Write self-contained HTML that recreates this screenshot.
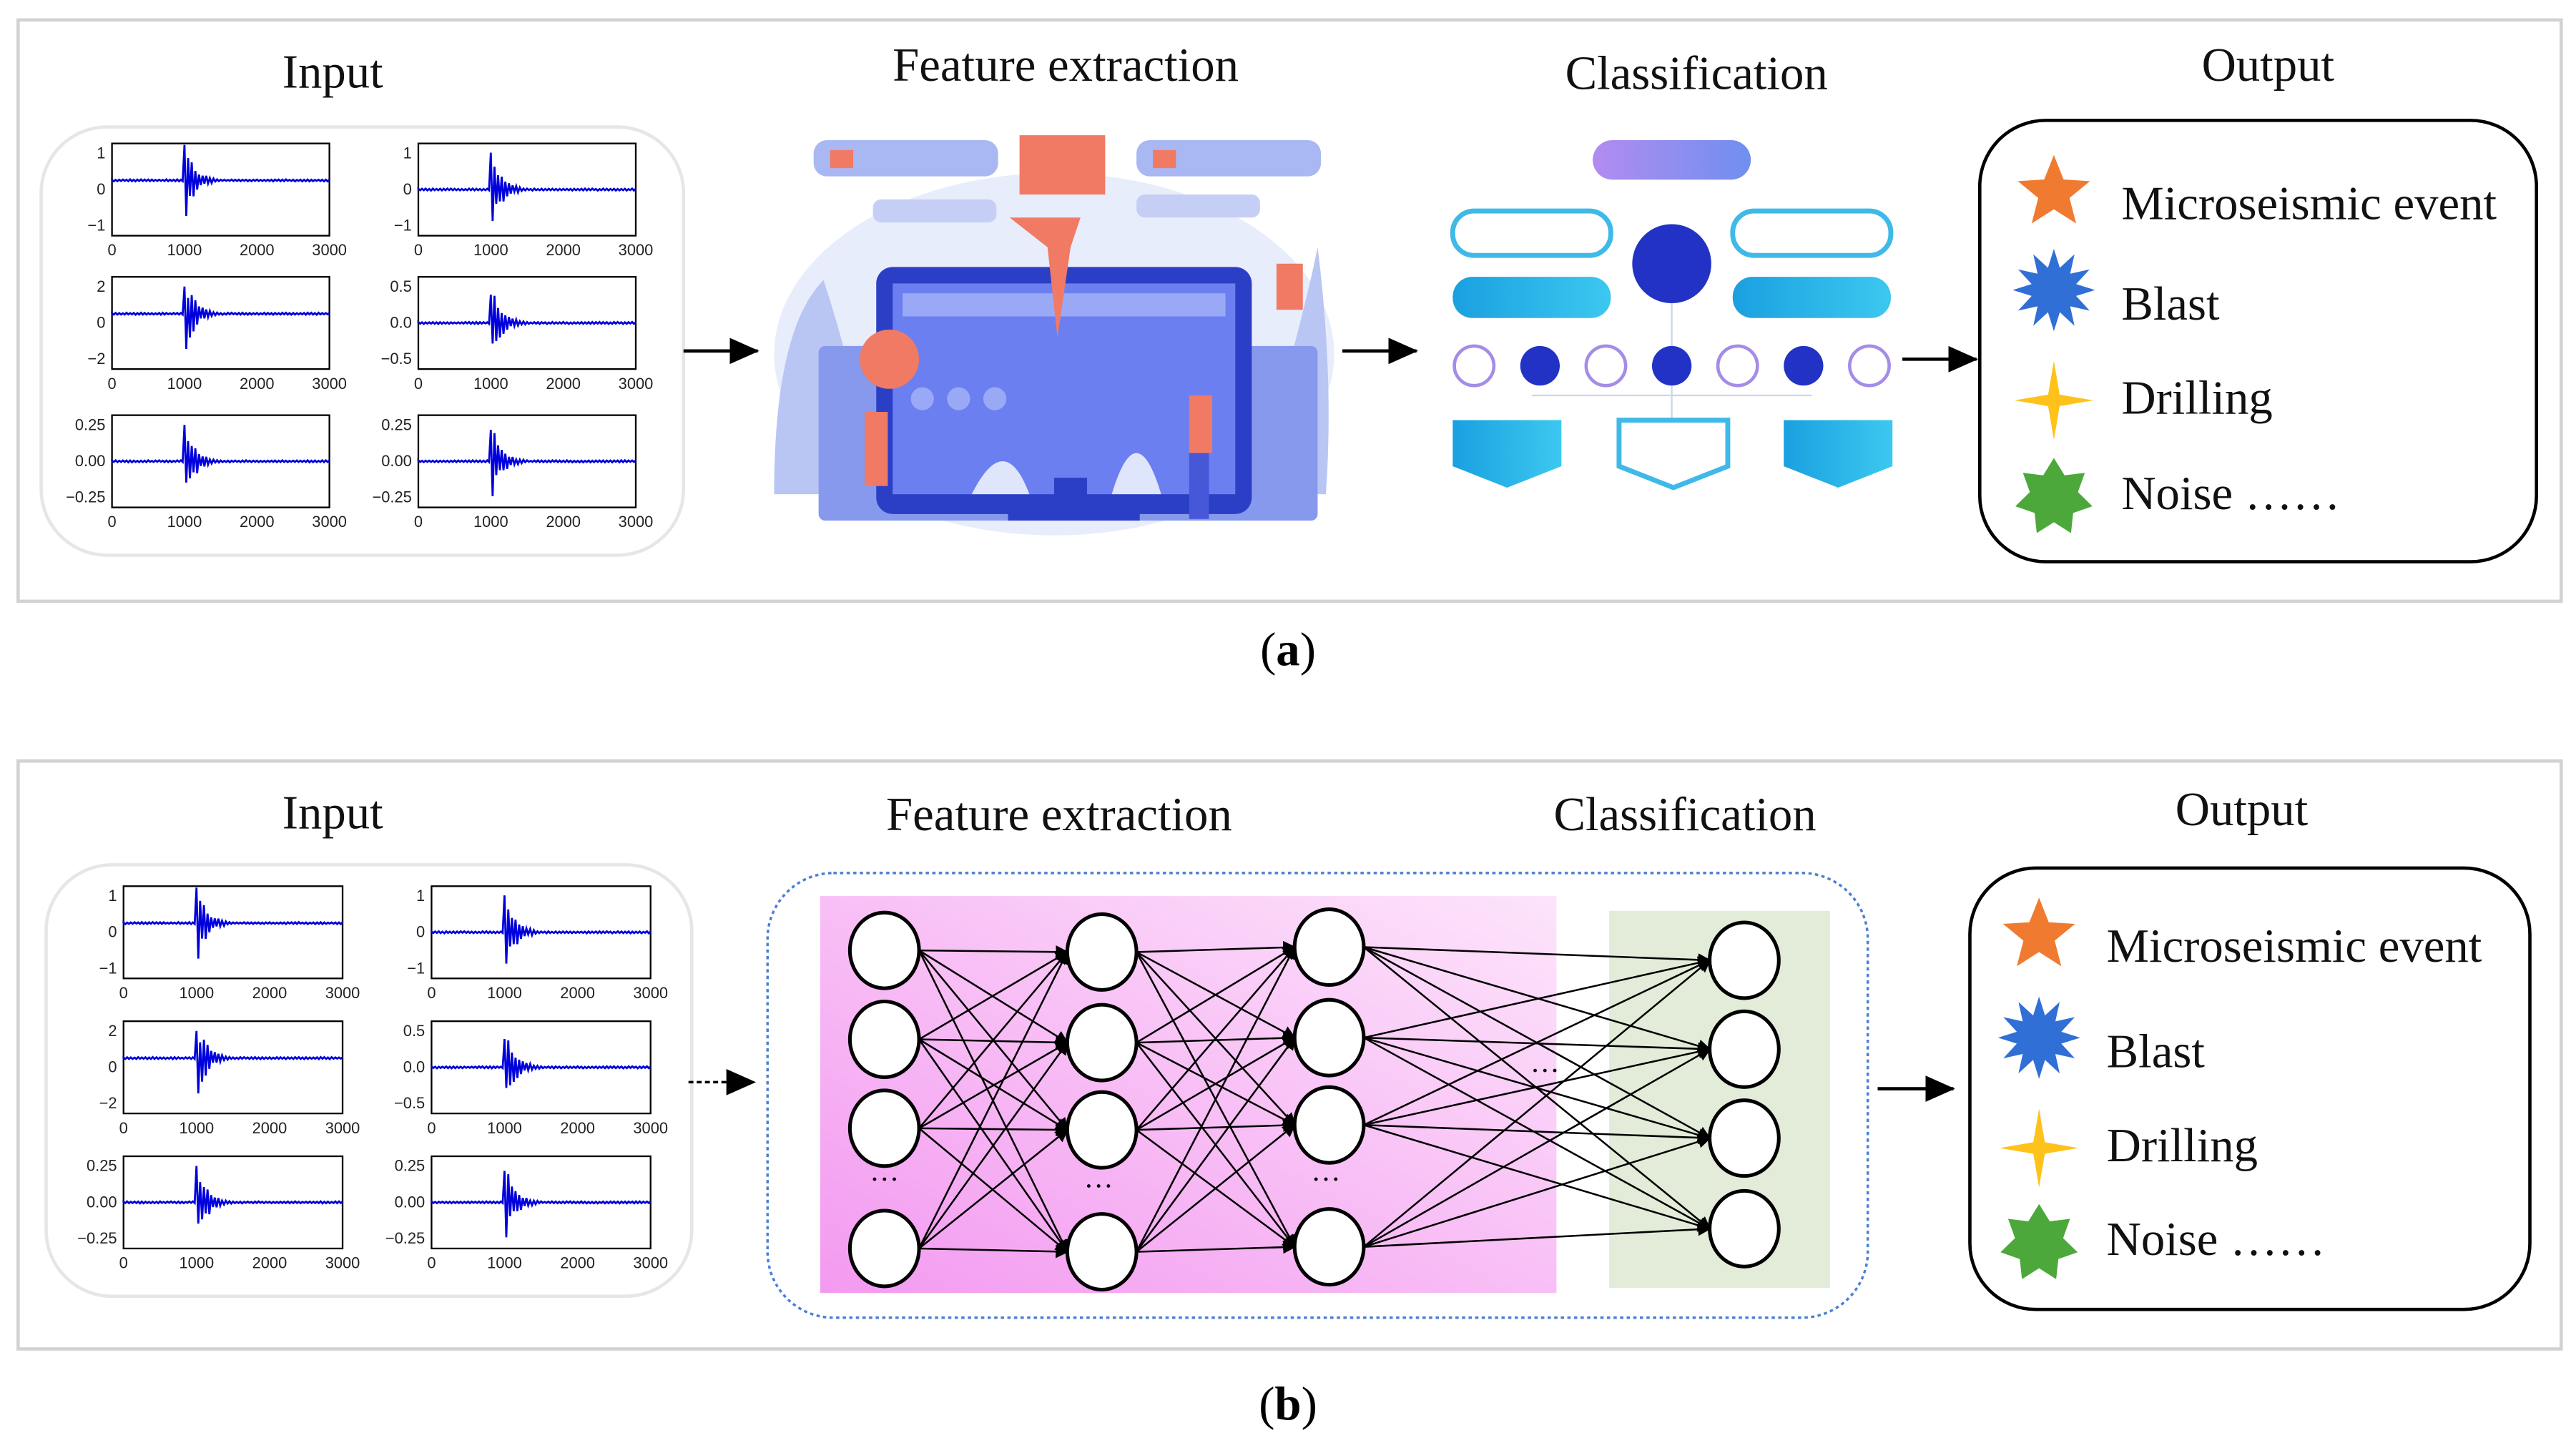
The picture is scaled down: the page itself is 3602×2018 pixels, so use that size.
<!DOCTYPE html>
<html><head><meta charset="utf-8"><style>
html,body{margin:0;padding:0;background:#fff;}
svg{display:block;}
text{font-family:"Liberation Serif",serif;}
.t{font-size:29px;fill:#111;}
.ax{font-family:"Liberation Sans",sans-serif;font-size:9.5px;fill:#222;}
</style></head><body>
<svg id="s" xmlns="http://www.w3.org/2000/svg" width="3602" height="2018" viewBox="0 0 1564 876">
<defs>
<marker id="ah" markerWidth="8" markerHeight="8" refX="7" refY="4" orient="auto" markerUnits="userSpaceOnUse"><path d="M0,0 L8,4 L0,8z" fill="#000"/></marker>
<marker id="ah2" markerWidth="18" markerHeight="16" refX="17" refY="8" orient="auto" markerUnits="userSpaceOnUse"><path d="M0,0 L18,8 L0,16z" fill="#000"/></marker>
<linearGradient id="pk" x1="0" y1="1" x2="1" y2="0"><stop offset="0" stop-color="#f39af0"/><stop offset="1" stop-color="#fde4fb"/></linearGradient>
<linearGradient id="bl" x1="0" y1="0" x2="1" y2="0"><stop offset="0" stop-color="#1aa0e0"/><stop offset="1" stop-color="#3cc8f0"/></linearGradient>
<linearGradient id="pu" x1="0" y1="0" x2="1" y2="0"><stop offset="0" stop-color="#b28cf0"/><stop offset="1" stop-color="#6f8ff0"/></linearGradient>
</defs>
<rect width="1564" height="876" fill="#fff"/>
<!-- panel a -->
<rect x="11" y="12" width="1544" height="353" fill="#fff" stroke="#d2d2d2" stroke-width="2"/>
<text class="t" x="202" y="53" text-anchor="middle">Input</text>
<text class="t" x="647" y="49" text-anchor="middle">Feature extraction</text>
<text class="t" x="1030" y="54" text-anchor="middle">Classification</text>
<text class="t" x="1377" y="49" text-anchor="middle">Output</text>
<rect x="25" y="77" width="390" height="260" rx="40" fill="#fff" stroke="#e6e6e6" stroke-width="2"/>
<g id="plotsA"></g>
<line x1="415" y1="213" x2="460" y2="213" stroke="#000" stroke-width="2" marker-end="url(#ah2)"/>
<line x1="815" y1="213" x2="860" y2="213" stroke="#000" stroke-width="2" marker-end="url(#ah2)"/>
<line x1="1155" y1="218" x2="1200" y2="218" stroke="#000" stroke-width="2" marker-end="url(#ah2)"/>
<!-- feature illustration -->
<g>
<ellipse cx="640" cy="215" rx="170" ry="110" fill="#e8edfb"/>
<path d="M470 300 Q470 200 500 170 Q520 230 530 300z" fill="#b9c6f3"/>
<path d="M760 300 Q790 200 800 150 Q810 230 805 300z" fill="#b9c6f3"/>
<rect x="494" y="85" width="112" height="22" rx="8" fill="#a9b8f3"/>
<rect x="504" y="91" width="14" height="11" fill="#f07a64"/>
<rect x="690" y="85" width="112" height="22" rx="8" fill="#a9b8f3"/>
<rect x="700" y="91" width="14" height="11" fill="#f07a64"/>
<rect x="530" y="121" width="75" height="14" rx="5" fill="#c5cff6"/>
<rect x="690" y="118" width="75" height="14" rx="5" fill="#c5cff6"/>
<rect x="619" y="82" width="52" height="36" fill="#f07a64"/>
<rect x="497" y="210" width="303" height="106" rx="4" fill="#8799ec"/>
<rect x="532" y="162" width="228" height="150" rx="10" fill="#2b3fc6"/>
<rect x="542" y="172" width="208" height="128" fill="#6b7ff0"/>
<rect x="548" y="178" width="196" height="14" fill="#9aa9f6"/>
<path d="M613 132 L656 132 L650 150 L642 205 L636 150z" fill="#f07a64"/>
<circle cx="540" cy="218" r="18" fill="#f07a64"/>
<circle cx="560" cy="242" r="7" fill="#9aa9f6"/><circle cx="582" cy="242" r="7" fill="#9aa9f6"/><circle cx="604" cy="242" r="7" fill="#9aa9f6"/>
<rect x="612" y="302" width="80" height="14" fill="#2b3fc6"/>
<rect x="640" y="290" width="20" height="14" fill="#2b3fc6"/>
<rect x="525" y="250" width="14" height="45" fill="#f07a64"/>
<rect x="722" y="240" width="14" height="35" fill="#f07a64"/><rect x="722" y="275" width="12" height="40" fill="#4657d8"/>
<rect x="775" y="160" width="16" height="28" fill="#f07a64"/>
<path d="M590 300 Q610 260 625 300z" fill="#dfe6fb"/>
<path d="M675 300 Q690 250 705 300z" fill="#dfe6fb"/>
</g>
<!-- classification icons -->
<g>
<rect x="967" y="85" width="96" height="24" rx="12" fill="url(#pu)"/>
<rect x="882" y="128" width="96" height="27" rx="13" fill="#fff" stroke="#3fb9e8" stroke-width="3"/>
<rect x="1052" y="128" width="96" height="27" rx="13" fill="#fff" stroke="#3fb9e8" stroke-width="3"/>
<rect x="882" y="168" width="96" height="25" rx="12" fill="url(#bl)"/>
<rect x="1052" y="168" width="96" height="25" rx="12" fill="url(#bl)"/>
<circle cx="1015" cy="160" r="24" fill="#2232c4"/>
<g stroke="#c9d6ea" stroke-width="1"><line x1="1015" y1="184" x2="1015" y2="260"/><line x1="930" y1="240" x2="1100" y2="240"/></g>
<g stroke="#a48ce8" stroke-width="2" fill="#fff">
<circle cx="895" cy="222" r="12"/><circle cx="975" cy="222" r="12"/><circle cx="1055" cy="222" r="12"/><circle cx="1135" cy="222" r="12"/></g>
<g fill="#2232c4"><circle cx="935" cy="222" r="12"/><circle cx="1015" cy="222" r="12"/><circle cx="1095" cy="222" r="12"/></g>
<path d="M882 255 H948 V283 L915 296 L882 283z" fill="url(#bl)"/>
<path d="M983 255 H1049 V283 L1016 296 L983 283z" fill="#fff" stroke="#3fb9e8" stroke-width="3"/>
<path d="M1083 255 H1149 V283 L1116 296 L1083 283z" fill="url(#bl)"/>
</g>
<rect x="1202" y="73" width="338" height="268" rx="40" fill="#fff" stroke="#000" stroke-width="2"/>
<g id="outA"></g>
<text x="782" y="404" text-anchor="middle" style="font-size:29px;">(<tspan font-weight="bold">a</tspan>)</text>
<!-- panel b -->
<rect x="11" y="462" width="1544" height="357" fill="#fff" stroke="#d2d2d2" stroke-width="2"/>
<text class="t" x="202" y="503" text-anchor="middle">Input</text>
<text class="t" x="643" y="504" text-anchor="middle">Feature extraction</text>
<text class="t" x="1023" y="504" text-anchor="middle">Classification</text>
<text class="t" x="1361" y="501" text-anchor="middle">Output</text>
<rect x="28" y="525" width="392" height="262" rx="40" fill="#fff" stroke="#e6e6e6" stroke-width="2"/>
<g id="plotsB"></g>
<line x1="418" y1="657" x2="458" y2="657" stroke="#000" stroke-width="1.5" stroke-dasharray="3,2" marker-end="url(#ah2)"/>
<rect x="466" y="530" width="668" height="270" rx="40" fill="none" stroke="#4a7fd6" stroke-width="1.5" stroke-dasharray="2,2"/>
<rect x="498" y="544" width="447" height="241" fill="url(#pk)"/>
<rect x="977" y="553" width="134" height="229" fill="#e2ecd9"/>
<g id="net"></g>
<line x1="1140" y1="661" x2="1186" y2="661" stroke="#000" stroke-width="2" marker-end="url(#ah2)"/>
<rect x="1196" y="527" width="340" height="268" rx="40" fill="#fff" stroke="#000" stroke-width="2"/>
<g id="outB"></g>
<text x="782" y="862" text-anchor="middle" style="font-size:29px;">(<tspan font-weight="bold">b</tspan>)</text>
</svg>
<script>
var NS="http://www.w3.org/2000/svg";
function el(p,n,a,t){var e=document.createElementNS(NS,n);for(var k in a)e.setAttribute(k,a[k]);if(t!=null)e.textContent=t;p.appendChild(e);return e;}
function rnd(i){var x=Math.sin(i*12.9898)*43758.5453;return x-Math.floor(x);}
var labels=[["1","0","\u22121"],["1","0","\u22121"],["2","0","\u22122"],["0.5","0.0","\u22120.5"],["0.25","0.00","\u22120.25"],["0.25","0.00","\u22120.25"]];
function plots(g,x0,x1,ys){
 var gg=document.getElementById(g),k=0;
 for(var r=0;r<3;r++)for(var c=0;c<2;c++){
  var x=x0[c],w=x1-x0[0],y=ys[r],h=56;
  el(gg,"rect",{x:x,y:y,width:w,height:h,fill:"#fff",stroke:"#000","stroke-width":1});
  var mid=y+h*(c==0&&r<2?0.4:0.5),lb=labels[k];
  for(var j=0;j<3;j++){var ty=y+6+j*(h-12)/2;el(gg,"text",{x:x-4,y:ty+3,"text-anchor":"end","class":"ax"},lb[j]);}
  for(var j=0;j<4;j++){el(gg,"text",{x:x+j*w/3,y:y+h+12,"text-anchor":"middle","class":"ax"},String(j*1000));}
  var d="M"+x+" "+mid+" ",px=x+w/3;
  for(var i=0;i<=120;i++){var xx=x+i*w/120;var amp=0.6;var dd=xx-px;if(dd>=0&&dd<25)amp=(h*0.48)*Math.exp(-dd/6);d+="L"+xx.toFixed(1)+" "+(mid+(i%2?1:-1)*amp*(0.5+rnd(i+k*200)*0.5)).toFixed(1)+" ";}
  el(gg,"path",{d:d,fill:"none",stroke:"#0000dd","stroke-width":1.2});
  k++;}
}
plots("plotsA",[68,254],200,[87,168,252]);
plots("plotsB",[75,262],208,[538,620,702]);
function out(g,x,ys){
 var gg=document.getElementById(g),names=["Microseismic event","Blast","Drilling","Noise  \u2026\u2026"];
 function star(cx,cy,n,ro,ri,col){var d="";for(var i=0;i<2*n;i++){var a=-Math.PI/2+i*Math.PI/n,r=i%2?ri:ro;d+=(i?"L":"M")+(cx+r*Math.cos(a)).toFixed(1)+" "+(cy+r*Math.sin(a)).toFixed(1);}el(gg,"path",{d:d+"z",fill:col});}
 star(x,ys[0],5,23,10,"#f07a30");star(x,ys[1],12,25,14,"#2f6fd6");star(x,ys[2],4,24,5,"#ffc21a");star(x,ys[3],7,24,15,"#4ca83a");
 var ty=[ys[0]+6,ys[1]+8,ys[2]-2,ys[3]-3];
 for(var i=0;i<4;i++)el(gg,"text",{x:x+41,y:ty[i]+10,"class":"t"},names[i]);
}
out("outA",1247,[117,176,243,302]);
out("outB",1238,[568,630,697,755]);
var g=document.getElementById("net");
var cols=[[537,[577,631,685,758]],[669,[578,633,686,760]],[807,[575,630,683,757]],[1059,[583,637,691,746]]];
for(var c=0;c<3;c++){var a=cols[c],b=cols[c+1];for(var i=0;i<4;i++)for(var j=0;j<4;j++){
 var x1=a[0]+21,y1=a[1][i],x2=b[0]-21,y2=b[1][j];el(g,"line",{x1:x1,y1:y1,x2:x2,y2:y2,stroke:"#000","stroke-width":1.1,"marker-end":"url(#ah)"});}}
for(var c=0;c<4;c++)for(var i=0;i<4;i++)el(g,"ellipse",{cx:cols[c][0],cy:cols[c][1][i],rx:21,ry:23,fill:"#fff",stroke:"#000","stroke-width":2.2});
[[537,722],[667,726],[805,722],[938,656]].forEach(function(p){el(g,"text",{x:p[0],y:p[1],"text-anchor":"middle",style:"font-size:18px"},"\u00b7\u00b7\u00b7");});
</script>
</body></html>
